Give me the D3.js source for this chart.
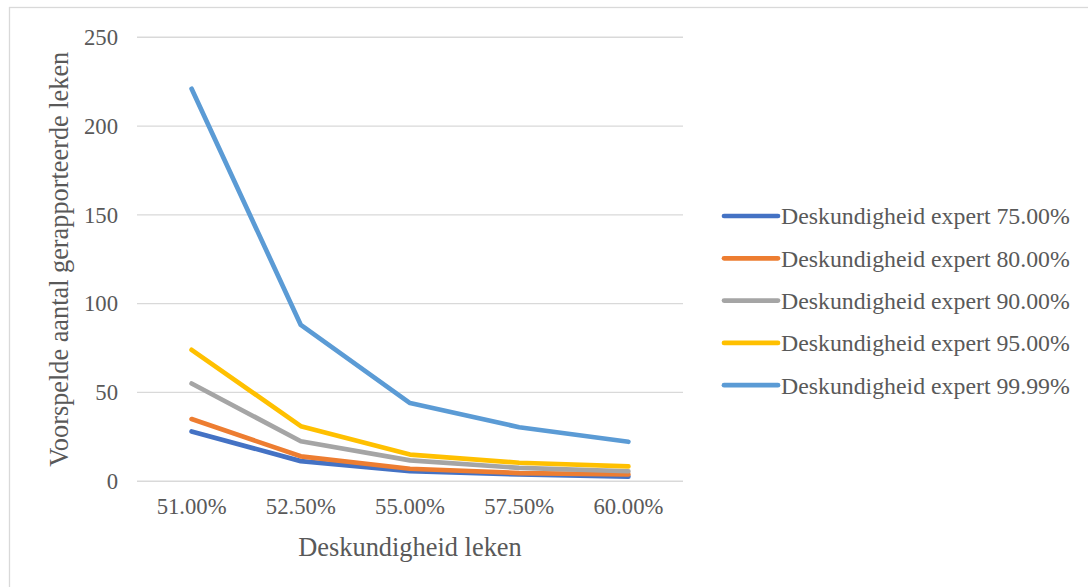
<!DOCTYPE html>
<html>
<head>
<meta charset="utf-8">
<script src="https://cdn.jsdelivr.net/npm/d3@7"></script>
<style>
  html, body { margin: 0; padding: 0; background: #ffffff; }
  svg { display: block; }
  text { font-family: "Liberation Serif", "Times New Roman", serif; fill: #595959; }
</style>
</head>
<body>
<svg id="chart" width="1088" height="587"></svg>
<script>
// Deskundigheid leken (x categories)
const categories = ["51.00%", "52.50%", "55.00%", "57.50%", "60.00%"];

// Voorspelde aantal gerapporteerde leken, per expert level
const seriesNames = [
  "Deskundigheid expert 75.00%",
  "Deskundigheid expert 80.00%",
  "Deskundigheid expert 90.00%",
  "Deskundigheid expert 95.00%",
  "Deskundigheid expert 99.99%"
];
const expert75 = [28, 11.3, 5.6, 3.8, 2.6];
const expert80 = [35, 14, 7, 4.6, 3.8];
const expert90 = [55, 22.5, 11.7, 7.5, 5.6];
const expert95 = [74, 31, 15, 10.4, 8.3];
const expert9999 = [221, 88, 44, 30.4, 22.2];
const seriesValues = [expert75, expert80, expert90, expert95, expert9999];
const seriesColors = ["#4472C4", "#ED7D31", "#A5A5A5", "#FFC000", "#5B9BD5"];

const yTicks = [0, 50, 100, 150, 200, 250];

const svg = d3.select("#chart");

// chart frame
svg.append("rect")
  .attr("x", 9.5).attr("y", 7.5)
  .attr("width", 1200).attr("height", 700)
  .attr("fill", "#ffffff")
  .attr("stroke", "#d9d9d9").attr("stroke-width", 1.3);

const plot = { left: 137, right: 683, top: 37.3, bottom: 481.2 };

const x = d3.scaleBand().domain(categories).range([plot.left, plot.right]);
const y = d3.scaleLinear().domain([0, 250]).range([plot.bottom, plot.top]);

// horizontal gridlines
svg.append("g")
  .selectAll("line")
  .data(yTicks)
  .join("line")
  .attr("x1", plot.left).attr("x2", plot.right)
  .attr("y1", d => y(d)).attr("y2", d => y(d))
  .attr("stroke", "#d9d9d9").attr("stroke-width", 1.4);

// y axis tick labels
const yAxis = d3.axisLeft(y).tickValues(yTicks).tickSize(0).tickPadding(19);
const yg = svg.append("g").attr("transform", `translate(${plot.left},0)`).call(yAxis);
yg.select(".domain").remove();
yg.selectAll("text")
  .attr("font-size", 22.7)
  .attr("font-family", "Liberation Serif, serif")
  .attr("fill", "#595959");

// x axis tick labels
const xAxis = d3.axisBottom(x).tickSize(0).tickPadding(17);
const xg = svg.append("g").attr("transform", `translate(0,${plot.bottom})`).call(xAxis);
xg.select(".domain").remove();
xg.selectAll("text")
  .attr("font-size", 22.7)
  .attr("font-family", "Liberation Serif, serif")
  .attr("fill", "#595959");

// axis titles
svg.append("text")
  .attr("x", (plot.left + plot.right) / 2)
  .attr("y", 556)
  .attr("text-anchor", "middle")
  .attr("font-size", 26.4)
  .text("Deskundigheid leken");

svg.append("text")
  .attr("transform", `translate(68,${(plot.top + plot.bottom) / 2}) rotate(-90)`)
  .attr("text-anchor", "middle")
  .attr("font-size", 26.3)
  .text("Voorspelde aantal gerapporteerde leken");

// series lines
const line = d3.line()
  .x((d, i) => x(categories[i]) + x.bandwidth() / 2)
  .y(d => y(d));

svg.append("g")
  .selectAll("path")
  .data(seriesValues)
  .join("path")
  .attr("d", d => line(d))
  .attr("fill", "none")
  .attr("stroke", (d, i) => seriesColors[i])
  .attr("stroke-width", 4.7)
  .attr("stroke-linecap", "round")
  .attr("stroke-linejoin", "round");

// legend
const legend = svg.append("g")
  .selectAll("g")
  .data(seriesNames)
  .join("g")
  .attr("transform", (d, i) => `translate(722,${216 + i * 42.3})`);

legend.append("line")
  .attr("x1", 2).attr("x2", 56)
  .attr("y1", 0).attr("y2", 0)
  .attr("stroke", (d, i) => seriesColors[i])
  .attr("stroke-width", 4.7)
  .attr("stroke-linecap", "round");

legend.append("text")
  .attr("x", 59)
  .attr("dy", "0.35em")
  .attr("font-size", 23.8)
  .text(d => d);
</script>
</body>
</html>
